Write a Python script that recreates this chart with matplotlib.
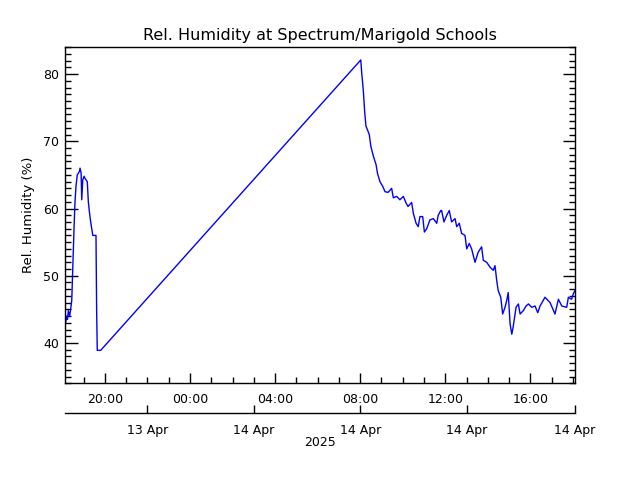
import numpy as np
import matplotlib
matplotlib.use('Agg')
import matplotlib.pyplot as plt
from matplotlib.ticker import FixedLocator, MultipleLocator

# time in hours since 13 Apr 2025 00:00, relative humidity in %
hours = [18.12, 18.20, 18.24, 18.28, 18.34, 18.38, 18.44, 18.49, 18.55, 18.59,
         18.64, 18.70, 18.76, 18.80, 18.83, 18.88, 18.91, 18.96, 19.02, 19.06,
         19.17, 19.22, 19.27, 19.33, 19.38, 19.43, 19.58, 19.61, 19.64, 19.80,
         32.03, 32.07, 32.15, 32.21, 32.27, 32.43, 32.50, 32.62, 32.75, 32.81,
         32.93, 33.06, 33.17, 33.31, 33.48, 33.56, 33.72, 33.87, 34.03, 34.16,
         34.25, 34.42, 34.50, 34.63, 34.73, 34.81, 34.94, 35.02, 35.13, 35.28,
         35.44, 35.60, 35.67, 35.79, 35.83, 35.94, 36.07, 36.19, 36.30, 36.46,
         36.54, 36.66, 36.77, 36.93, 37.01, 37.13, 37.24, 37.40, 37.55, 37.71,
         37.79, 37.95, 38.10, 38.26, 38.34, 38.42, 38.49, 38.61, 38.70, 38.81,
         38.89, 38.96, 39.05, 39.13, 39.20, 39.33, 39.44, 39.52, 39.67, 39.80,
         39.91, 40.07, 40.22, 40.35, 40.46, 40.69, 40.93, 41.16, 41.32, 41.48,
         41.71, 41.79, 41.94, 42.02, 42.10]
rh = [42.3, 44.0, 43.5, 44.8, 44.0, 44.8, 46.3, 51.3, 57.3, 60.8,
      63.3, 65.0, 65.3, 65.5, 66.0, 65.3, 61.3, 64.3, 64.8, 64.5,
      64.0, 61.0, 59.5, 58.0, 57.0, 56.0, 56.0, 45.0, 38.9, 38.9,
      82.1, 80.3, 77.5, 74.5, 72.3, 71.0, 69.3, 67.8, 66.5, 65.3,
      64.0, 63.3, 62.5, 62.4, 63.0, 61.6, 61.8, 61.3, 61.8, 60.8,
      60.3, 60.9, 59.3, 57.8, 57.3, 58.8, 58.8, 56.5, 57.0, 58.3,
      58.5, 57.8, 59.0, 59.7, 59.7, 58.0, 59.0, 59.7, 58.0, 58.5,
      57.3, 57.8, 56.3, 56.0, 54.0, 54.8, 54.0, 52.0, 53.5, 54.3,
      52.3, 52.0, 51.3, 50.8, 51.5, 49.3, 47.8, 46.8, 44.3, 45.3,
      46.3, 47.5, 42.8, 41.3, 42.5, 45.3, 45.8, 44.3, 44.8, 45.5,
      45.8, 45.3, 45.5, 44.5, 45.5, 46.8, 46.0, 44.3, 46.5, 45.5,
      45.3, 46.8, 46.5, 47.3, 47.8]

hour_ticks = [20, 24, 28, 32, 36, 40]
hour_labels = ['20:00', '00:00', '04:00', '08:00', '12:00', '16:00']
day_ticks = [22, 27, 32, 37, 42.1]
day_labels = ['13 Apr', '14 Apr', '14 Apr', '14 Apr', '14 Apr']

plt.rcParams['font.family'] = ['DejaVu Sans']

fig = plt.figure(figsize=(6.4, 4.8), dpi=100)
ax = fig.add_axes([0.1008, 0.2015, 0.7976, 0.7016])

ax.plot(hours, rh, color='#0000ff', lw=1.0)

ax.set_xlim(18.1, 42.1)
ax.set_ylim(34.0, 84.1)

ax.xaxis.set_major_locator(FixedLocator(hour_ticks))
ax.set_xticklabels(hour_labels)
ax.xaxis.set_minor_locator(FixedLocator(np.arange(19, 43, 1)))
ax.yaxis.set_major_locator(MultipleLocator(10))
ax.yaxis.set_minor_locator(MultipleLocator(1))

ax.tick_params(which='both', direction='in', top=True, right=True, width=1, color='black')
ax.tick_params(which='major', length=7, labelsize=9, pad=7)
ax.tick_params(axis='y', which='major', length=9, pad=4)
ax.tick_params(which='minor', length=4)
for s in ax.spines.values():
    s.set_linewidth(1)

ax.set_title('Rel. Humidity at Spectrum/Marigold Schools', fontsize=11.5, pad=5)
ax.set_ylabel('Rel. Humidity (%)', fontsize=9.5, labelpad=6)

# second date axis below
ax2 = ax.twiny()
ax2.set_xlim(ax.get_xlim())
ax2.xaxis.set_ticks_position('bottom')
ax2.xaxis.set_label_position('bottom')
ax2.spines['bottom'].set_position(('outward', 21.6))
for k in ['top', 'left', 'right']:
    ax2.spines[k].set_visible(False)
ax2.spines['bottom'].set_linewidth(1)
ax2.set_xticks(day_ticks)
ax2.set_xticklabels(day_labels)
ax2.tick_params(direction='in', length=6, width=1, labelsize=9, pad=8)
ax2.set_xlabel('2025', fontsize=9, labelpad=-1)

fig.savefig('out.png', dpi=100)
